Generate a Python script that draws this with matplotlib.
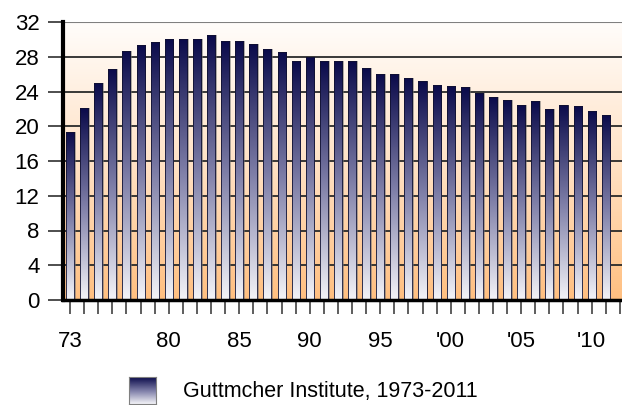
import numpy as np
import matplotlib
matplotlib.use("Agg")
import matplotlib.pyplot as plt
from matplotlib.colors import LinearSegmentedColormap

plt.rcParams['font.family'] = ['Liberation Sans', 'DejaVu Sans']

# data
years = list(range(1973, 2012))
rates = [19.3, 22.1, 25.0, 26.6, 28.7, 29.3, 29.7, 30.1, 30.1, 30.1,
         30.5, 29.8, 29.8, 29.5, 28.9, 28.6, 27.5, 28.0, 27.5, 27.5,
         27.5, 26.7, 26.0, 26.0, 25.6, 25.2, 24.7, 24.6, 24.5, 23.8,
         23.4, 23.0, 22.4, 22.9, 22.0, 22.5, 22.3, 21.8, 21.3]
label_years = [1973, 1980, 1985, 1990, 1995, 2000, 2005, 2010]
label_text = ['73', '80', '85', '90', '95', "'00", "'05", "'10"]
yticks = [0, 4, 8, 12, 16, 20, 24, 28, 32]
legend_label = 'Guttmcher Institute, 1973-2011'

bar_cmap = LinearSegmentedColormap.from_list('bar', ['#f4f4f8', '#7c7ca6', '#0a0a4a'])
bg_cmap = LinearSegmentedColormap.from_list('bg', ['#ffbf80', '#ffe2c6', '#fffdfb'])

fig = plt.figure(figsize=(6.22, 4.05), dpi=100)
ax = fig.add_axes([63/622, 1-300/405, 1-63/622, 278/405])

x = np.arange(len(years))
xmin, xmax = -0.5, 39.15

# background gradient
grad = np.linspace(0, 1, 256).reshape(-1, 1)
ax.imshow(grad, cmap=bg_cmap, origin='lower', aspect='auto',
          extent=[xmin, xmax, 0, 32], zorder=0)

# gridlines
for t in yticks[1:-1]:
    ax.axhline(t, color='#2a2a2a', lw=1.3, zorder=1)
ax.axhline(32, color='#808080', lw=1.5, zorder=1)

# shadows
ax.bar(x + 0.12, rates, width=0.57, color='#707070', alpha=0.55, zorder=2, lw=0)

bars = ax.bar(x, rates, width=0.57, color='none', edgecolor='#101030', lw=0.6, zorder=3)
for b in bars:
    x0, y0 = b.get_x(), b.get_y()
    im = ax.imshow(grad, cmap=bar_cmap, origin='lower', aspect='auto',
                   extent=[x0, x0 + b.get_width(), y0, y0 + b.get_height()], zorder=2.5)
    im.set_clip_path(b)
ax.set_xlim(xmin, xmax)
ax.set_ylim(0, 32)

for s in ['top', 'right']:
    ax.spines[s].set_visible(False)
ax.spines['left'].set_linewidth(3)
ax.spines['bottom'].set_linewidth(2.5)
ax.spines['left'].set_zorder(5)
ax.spines['bottom'].set_zorder(5)

ax.set_yticks(yticks)
ax.set_yticklabels([str(t) for t in yticks], fontsize=16)
ax.tick_params(axis='y', length=11, width=1.3, color='#404040', pad=6)

# labelled years as major ticks, every year as minor tick
ax.set_xticks([years.index(y) for y in label_years], labels=label_text)
ax.set_xticks(np.arange(40), minor=True)
ax.tick_params(axis='x', which='both', length=10, width=1.3, color='#505050')
ax.tick_params(axis='x', which='major', pad=12, labelsize=16)

# legend
lax = fig.add_axes([129/622, 1-404/405, 27/622, 27/405])
lax.imshow(grad, cmap=bar_cmap, origin='lower', aspect='auto', extent=[0, 1, 0, 1])
lax.set_xticks([])
lax.set_yticks([])
for s in lax.spines.values():
    s.set_color('#808080')
fig.text(183/622, 1-391/405, legend_label, fontsize=15.5, va='center', ha='left')

fig.savefig('out.png', dpi=100)
